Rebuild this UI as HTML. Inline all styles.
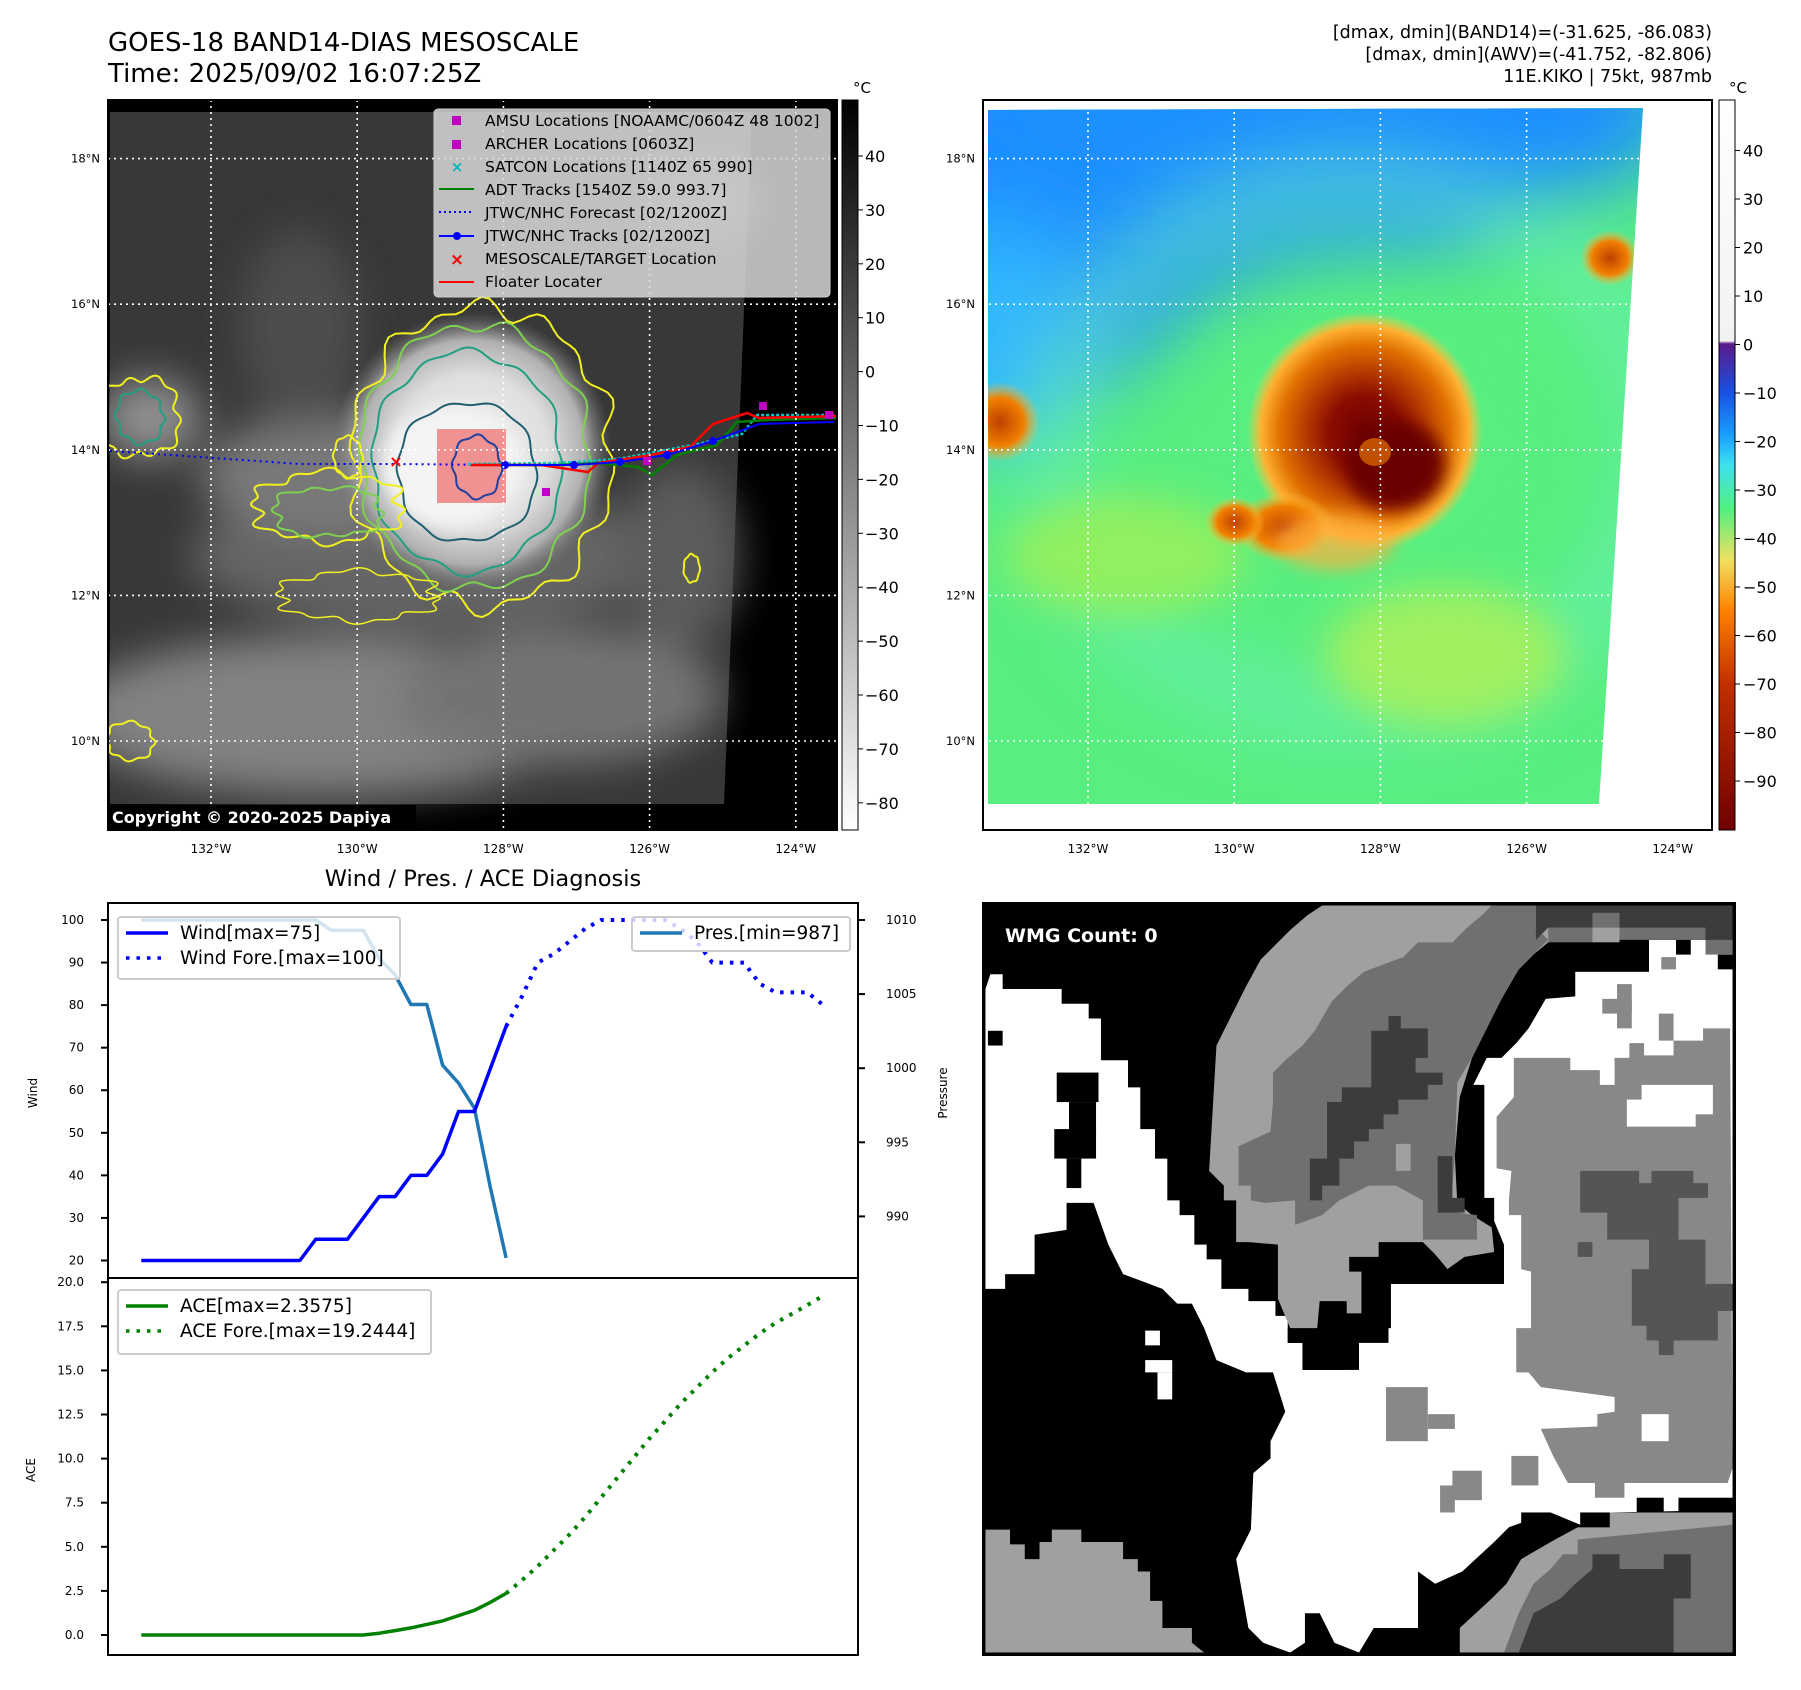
<!DOCTYPE html>
<html><head><meta charset="utf-8"><style>
html,body{margin:0;padding:0;background:#fff}
svg{display:block}
text{font-family:"DejaVu Sans","Liberation Sans",sans-serif}
</style></head><body>
<svg id="fig" width="1801" height="1690" viewBox="0 0 1801 1690" xmlns="http://www.w3.org/2000/svg">
<defs>
<clipPath id="c1"><rect x="108" y="100" width="729" height="730"/></clipPath>
<clipPath id="c2"><rect x="983" y="100" width="729" height="730"/></clipPath>
<filter id="b8" x="-50%" y="-50%" width="200%" height="200%"><feGaussianBlur stdDeviation="8"/></filter>
<filter id="b20" x="-50%" y="-50%" width="200%" height="200%"><feGaussianBlur stdDeviation="20"/></filter>
<filter id="b40" x="-50%" y="-50%" width="200%" height="200%"><feGaussianBlur stdDeviation="40"/></filter>
<radialGradient id="stormG" cx="0.5" cy="0.5" r="0.5">
<stop offset="0" stop-color="#f4f4f4"/><stop offset="0.55" stop-color="#dedede"/><stop offset="0.8" stop-color="#b0b0b0"/><stop offset="1" stop-color="#777" stop-opacity="0"/></radialGradient>
<radialGradient id="stormC" cx="0.5" cy="0.5" r="0.5">
<stop offset="0" stop-color="#700000"/><stop offset="0.3" stop-color="#8a0c00"/><stop offset="0.5" stop-color="#b43a00"/><stop offset="0.72" stop-color="#e07000"/><stop offset="0.88" stop-color="#ffb030"/><stop offset="1" stop-color="#ffd040" stop-opacity="0"/></radialGradient>
<radialGradient id="blobO" cx="0.5" cy="0.5" r="0.5">
<stop offset="0" stop-color="#c04000"/><stop offset="0.6" stop-color="#f08000"/><stop offset="1" stop-color="#ffc040" stop-opacity="0"/></radialGradient>
<linearGradient id="cb1" x1="0" y1="0" x2="0" y2="1"><stop offset="0" stop-color="#000"/><stop offset="1" stop-color="#fff"/></linearGradient>
<linearGradient id="cb2" x1="0" y1="0" x2="0" y2="1">
<stop offset="0" stop-color="#ffffff"/><stop offset="0.33" stop-color="#f2f2f2"/><stop offset="0.334" stop-color="#5a1a8a"/>
<stop offset="0.40" stop-color="#1a50e0"/><stop offset="0.46" stop-color="#1aa0ff"/><stop offset="0.50" stop-color="#40e0f0"/>
<stop offset="0.56" stop-color="#50f080"/><stop offset="0.63" stop-color="#f0e060"/><stop offset="0.70" stop-color="#ff8000"/>
<stop offset="0.80" stop-color="#c03000"/><stop offset="1" stop-color="#700000"/></linearGradient>
</defs>

<text x="108" y="51" font-size="26">GOES-18 BAND14-DIAS MESOSCALE</text>
<text x="108" y="82" font-size="26">Time: 2025/09/02 16:07:25Z</text>
<g font-size="17.5" text-anchor="end">
<text x="1712" y="38">[dmax, dmin](BAND14)=(-31.625, -86.083)</text>
<text x="1712" y="60">[dmax, dmin](AWV)=(-41.752, -82.806)</text>
<text x="1712" y="82">11E.KIKO | 75kt, 987mb</text>
</g>

<!-- MAP 1 -->
<g clip-path="url(#c1)">
<rect x="108" y="100" width="729" height="730" fill="#000"/>
<polygon points="110,112 752,112 724,804 110,804" fill="#383838"/>
<g filter="url(#b20)" opacity="0.9">
<ellipse cx="330" cy="715" rx="260" ry="80" fill="#8a8a8a"/>
<ellipse cx="560" cy="695" rx="160" ry="70" fill="#7a7a7a"/>
<ellipse cx="430" cy="556" rx="240" ry="70" fill="#6a6a6a"/>
<ellipse cx="330" cy="476" rx="130" ry="60" fill="#808080"/>
<ellipse cx="150" cy="418" rx="50" ry="40" fill="#9a9a9a"/>
<ellipse cx="680" cy="556" rx="60" ry="90" fill="#606060"/>
<ellipse cx="300" cy="328" rx="60" ry="100" fill="#505050"/>
<ellipse cx="700" cy="200" rx="60" ry="40" fill="#6a6a6a"/>
</g>
<ellipse cx="472" cy="452" rx="140" ry="140" fill="url(#stormG)"/>
<ellipse cx="452" cy="467" rx="70" ry="60" fill="#f4f4f4" filter="url(#b8)"/>
<rect x="437" y="429" width="69" height="74" fill="#f08080" opacity="0.85"/>
<g id="contours" fill="none" stroke-width="2"></g>
<polyline points="110,451 200,457 300,464 396,464 505,465" fill="none" stroke="#0000ff" stroke-width="2" stroke-dasharray="2,4"/>
<polyline points="468,464 558,463 618,459 698,444 742,434 757,415 836,415" fill="none" stroke="#00c8c8" stroke-width="2.5" stroke-dasharray="3,2"/>
<polyline points="478,465 558,465 598,463 638,467 652,475 677,455 717,445 737,422 767,420 836,418" fill="none" stroke="#008000" stroke-width="2.5"/>
<polyline points="471,465 541,465 588,472 598,463 645,456 690,447 713,424 747,413 759,418 840,416" fill="none" stroke="#ff0000" stroke-width="2.5"/>
<polyline points="505,465 574,465 620,462 667,455 713,441 759,424 834,422" fill="none" stroke="#0000ff" stroke-width="2"/>
<g fill="#0000ff"><circle cx="505" cy="465" r="4"/><circle cx="574" cy="465" r="4"/><circle cx="620" cy="462" r="4"/><circle cx="667" cy="455" r="4"/><circle cx="713" cy="441" r="4"/></g>
<g fill="#c000c0"><rect x="542" y="488" width="8" height="8"/><rect x="759" y="402" width="8" height="8"/><rect x="825" y="411" width="8" height="8"/><rect x="643" y="457" width="8" height="8"/></g>
<text x="396" y="467" fill="#ff0000" font-size="16" text-anchor="middle" font-weight="bold">×</text>
<g id="grid1" stroke="#fff" stroke-width="1.6" stroke-dasharray="2,4"></g>
</g>
<rect x="108" y="100" width="729" height="730" fill="none" stroke="#000" stroke-width="2"/>
<g>
<rect x="434" y="109" width="396" height="188" rx="4" fill="#d8d8d8" fill-opacity="0.85" stroke="#ccc"/>
<g font-size="15.5">
<rect x="452" y="116" width="9" height="9" fill="#c000c0"/><text x="485" y="126">AMSU Locations [NOAAMC/0604Z 48 1002]</text>
<rect x="452" y="140" width="9" height="9" fill="#c000c0"/><text x="485" y="149">ARCHER Locations [0603Z]</text>
<text x="457" y="172" fill="#00b8b8" font-size="15" text-anchor="middle" font-weight="bold">×</text><text x="485" y="172">SATCON Locations [1140Z 65 990]</text>
<line x1="439" y1="189" x2="474" y2="189" stroke="#008000" stroke-width="2"/><text x="485" y="195">ADT Tracks [1540Z 59.0 993.7]</text>
<line x1="439" y1="212" x2="474" y2="212" stroke="#0000ff" stroke-width="2" stroke-dasharray="2,3"/><text x="485" y="218">JTWC/NHC Forecast [02/1200Z]</text>
<line x1="439" y1="236" x2="474" y2="236" stroke="#0000ff" stroke-width="2"/><circle cx="457" cy="236" r="4" fill="#0000ff"/><text x="485" y="241">JTWC/NHC Tracks [02/1200Z]</text>
<text x="457" y="265" fill="#ff0000" font-size="17" text-anchor="middle" font-weight="bold">×</text><text x="485" y="264">MESOSCALE/TARGET Location</text>
<line x1="439" y1="282" x2="474" y2="282" stroke="#ff0000" stroke-width="2"/><text x="485" y="287">Floater Locater</text>
</g></g>
<g>
<rect x="108" y="805" width="308" height="25" fill="#000"/>
<text x="112" y="823" fill="#fff" font-size="16" font-weight="bold">Copyright © 2020-2025 Dapiya</text>
</g>
<rect x="842" y="100" width="16" height="730" fill="url(#cb1)" stroke="#000" stroke-width="1"/>
<text x="853" y="93" font-size="15">°C</text>
<g id="cb1ticks" font-size="16"></g>

<!-- MAP 2 -->
<g clip-path="url(#c2)">
<rect x="983" y="100" width="729" height="730" fill="#fff"/>
<clipPath id="sw2"><polygon points="988,110 1643,108 1599,804 988,804"/></clipPath>
<g clip-path="url(#sw2)">
<rect x="983" y="100" width="729" height="730" fill="#58ee80"/>
<ellipse cx="1080" cy="140" rx="420" ry="240" fill="#1a8cff" filter="url(#b40)"/>
<ellipse cx="1330" cy="110" rx="360" ry="120" fill="#1a90ff" filter="url(#b40)"/>
<ellipse cx="1000" cy="330" rx="80" ry="120" fill="#30b8ff" filter="url(#b40)"/>
<ellipse cx="1355" cy="447" rx="300" ry="260" fill="none" stroke="#70f0c0" stroke-width="40" filter="url(#b40)"/>
<ellipse cx="1355" cy="447" rx="230" ry="200" fill="#58ee80" filter="url(#b40)"/>
<ellipse cx="1125" cy="556" rx="120" ry="60" fill="#90f060" filter="url(#b20)"/>
<ellipse cx="1445" cy="656" rx="120" ry="70" fill="#a0f060" filter="url(#b20)"/>
<ellipse cx="1365" cy="432" rx="118" ry="120" fill="url(#stormC)"/>
<ellipse cx="1285" cy="527" rx="50" ry="35" fill="url(#blobO)"/>
<ellipse cx="1235" cy="522" rx="30" ry="25" fill="url(#blobO)"/>
<ellipse cx="1335" cy="542" rx="60" ry="28" fill="#ffb040" opacity="0.7" filter="url(#b8)"/>
<ellipse cx="1000" cy="422" rx="40" ry="40" fill="url(#blobO)"/>
<ellipse cx="1610" cy="258" rx="30" ry="28" fill="url(#blobO)"/>
<ellipse cx="1395" cy="465" rx="50" ry="45" fill="#6a0000" filter="url(#b8)"/>
<ellipse cx="1375" cy="452" rx="16" ry="14" fill="#c05000"/>
</g>
<g id="grid2" stroke="#fff" stroke-width="1.6" stroke-dasharray="2,4"></g>
</g>
<rect x="983" y="100" width="729" height="730" fill="none" stroke="#000" stroke-width="2"/>
<rect x="1719" y="100" width="16" height="730" fill="url(#cb2)" stroke="#000" stroke-width="1"/>
<text x="1729" y="93" font-size="15">°C</text>
<g id="cb2ticks" font-size="16"></g>
<g id="axlabels" font-size="12"></g>

<text x="483" y="886" font-size="22.5" text-anchor="middle">Wind / Pres. / ACE Diagnosis</text>
<g id="chart"></g>

<!-- WMG panel -->
<g>
<svg x="983" y="903" width="752" height="752" viewBox="5 5 1530 1530">
<rect x="5" y="5" width="1530" height="1530" fill="#000"/>
<polygon fill="#fff" points="10,180 20,150 45,150 45,180 165,180 165,210 220,210 220,240 245,240 245,325 300,325 300,380 325,380 325,465 355,465 355,525 380,525 380,610 405,610 405,640 435,640 435,700 460,700 460,730 490,730 490,790 545,790 545,815 600,815 600,845 625,845 625,900 655,900 655,955 740,955 770,900 830,870 830,780 1065,780 1065,700 1040,640 1000,590 1000,380 1030,320 1060,310 1090,290 1090,230 1130,200 1150,150 1210,145 1270,110 1360,110 1360,80 1530,80 1530,1240 1280,1245 1220,1270 1160,1245 1075,1275 1045,1305 980,1365 925,1390 890,1365 890,1480 800,1480 770,1530 720,1510 690,1450 660,1450 660,1510 630,1530 575,1510 545,1480 520,1340 550,1280 555,1165 590,1135 590,1100 620,1040 595,960 540,960 480,935 455,870 430,820 400,820 370,790 290,760 260,700 230,615 175,615 175,670 110,680 110,760 50,760 50,790 10,790"/>
<g fill="#000">
<rect x="750" y="725" width="315" height="55"/><rect x="810" y="695" width="90" height="30"/><rect x="775" y="755" width="60" height="115"/>
<rect x="625" y="870" width="205" height="30"/><rect x="655" y="900" width="115" height="55"/><rect x="690" y="815" width="85" height="55"/>
<rect x="155" y="350" width="85" height="60"/><rect x="180" y="410" width="55" height="60"/><rect x="150" y="465" width="85" height="60"/><rect x="175" y="525" width="30" height="60"/><rect x="15" y="265" width="30" height="30"/>
<rect x="995" y="375" width="30" height="235"/><rect x="1015" y="605" width="30" height="60"/>
<polygon points="1125,145 1210,145 1210,195 1150,200 1115,260 1090,290 1060,320 1030,320 1060,290 1085,260 1090,200 1120,170"/>
<rect x="1160" y="80" width="200" height="65"/><rect x="1415" y="80" width="30" height="30"/><rect x="1500" y="110" width="30" height="30"/>
</g>
<g fill="#fff"><rect x="335" y="875" width="30" height="30"/><rect x="335" y="935" width="55" height="25"/><rect x="360" y="960" width="30" height="55"/></g>
<polygon fill="#888" points="1050,440 1085,400 1085,320 1200,320 1200,345 1260,345 1260,375 1290,375 1290,320 1320,320 1320,290 1350,290 1350,315 1410,315 1410,285 1470,285 1470,260 1525,260 1530,1155 1520,1185 1310,1185 1310,1215 1250,1215 1250,1185 1195,1185 1165,1130 1140,1075 1255,1070 1255,1045 1290,1040 1290,1010 1140,990 1115,960 1090,960 1090,870 1120,870 1120,755 1100,750 1100,640 1075,640 1075,610 1080,550 1050,545"/>
<g fill="#fff"><rect x="1345" y="375" width="145" height="60"/><rect x="1315" y="405" width="140" height="55"/><rect x="1345" y="1045" width="55" height="55"/></g>
<g fill="#888"><rect x="825" y="990" width="85" height="110"/><rect x="910" y="1045" width="55" height="30"/><rect x="1080" y="1130" width="55" height="60"/><rect x="960" y="1160" width="60" height="60"/><rect x="935" y="1190" width="30" height="55"/><rect x="1295" y="170" width="30" height="90"/><rect x="1265" y="200" width="60" height="30"/><rect x="1380" y="230" width="30" height="55"/><rect x="1385" y="115" width="30" height="25"/></g>
<polygon fill="#555" points="1220,550 1340,550 1340,575 1365,575 1365,550 1450,550 1450,575 1480,575 1480,605 1420,605 1420,690 1475,690 1475,780 1530,780 1530,835 1500,835 1500,895 1410,895 1410,925 1380,925 1380,895 1355,895 1355,865 1325,865 1325,750 1360,750 1360,690 1275,690 1275,635 1220,635"/>
<rect x="1215" y="695" width="30" height="30" fill="#555"/>
<polygon fill="#a0a0a0" points="695,10 1130,10 1130,55 1245,55 1245,80 1185,80 1155,85 1125,110 1095,140 1060,200 1030,260 1000,320 975,400 965,520 970,615 1000,640 1040,665 1045,715 985,725 950,750 925,720 900,695 810,695 810,725 750,725 750,755 775,755 775,840 745,840 745,815 690,815 685,870 630,870 605,810 605,700 545,695 520,695 520,610 495,610 495,580 465,550 475,380 480,295 510,235 540,175 570,120 600,90 630,60 665,30"/>
<polygon fill="#707070" points="1040,10 1130,10 1130,55 1155,80 1125,110 1095,140 1060,200 1030,260 1000,320 970,370 965,520 960,580 930,600 930,630 1010,640 1010,690 900,690 900,610 845,580 790,580 730,610 695,640 640,660 640,610 580,615 550,610 550,580 525,580 525,500 590,470 595,410 595,350 620,325 655,295 680,265 715,205 745,175 780,145 860,115 890,85 960,85 990,55 1020,30"/>
<polygon fill="#3c3c3c" points="830,235 855,235 855,260 910,260 910,320 885,320 885,350 940,350 940,375 910,375 910,405 850,405 850,435 820,435 820,465 790,465 790,490 760,490 760,525 730,525 730,580 695,580 695,610 670,610 670,525 705,525 705,410 735,410 735,380 795,380 795,265 830,265"/>
<polygon fill="#3c3c3c" points="930,520 960,520 960,605 985,605 985,635 930,635"/>
<rect x="845" y="495" width="30" height="55" fill="#a0a0a0"/>
<polygon fill="#3c3c3c" points="1130,10 1530,10 1530,80 1475,80 1475,55 1300,55 1300,80 1245,80 1245,55 1155,55 1130,80"/>
<g fill="#707070"><rect x="1155" y="55" width="90" height="30"/><rect x="1300" y="55" width="175" height="25"/><rect x="1245" y="25" width="55" height="30"/><rect x="1475" y="80" width="55" height="30"/></g>
<rect x="1245" y="55" width="55" height="30" fill="#a0a0a0"/>
<polygon fill="#a0a0a0" points="10,1280 60,1280 60,1310 90,1310 90,1340 120,1340 120,1305 145,1305 145,1280 205,1280 205,1305 290,1305 290,1340 320,1340 320,1365 345,1365 345,1425 370,1425 370,1480 430,1480 430,1510 455,1530 10,1530"/>
<polygon fill="#a0a0a0" points="1280,1245 1530,1245 1530,1530 975,1530 975,1480 1040,1420 1070,1390 1100,1340 1160,1305 1215,1275 1280,1275"/>
<polygon fill="#707070" points="1215,1300 1530,1270 1530,1530 1065,1530 1095,1450 1125,1390 1160,1360 1185,1330 1215,1330"/>
<polygon fill="#3c3c3c" points="1245,1330 1300,1330 1300,1360 1390,1360 1390,1330 1445,1330 1445,1420 1410,1420 1410,1530 1095,1530 1125,1450 1180,1420 1210,1390 1245,1360"/>
<g fill="#000"><rect x="1335" y="1215" width="55" height="30"/><rect x="1420" y="1215" width="110" height="30"/><rect x="1220" y="1245" width="60" height="30"/><rect x="1100" y="1245" width="60" height="30"/></g>
</svg>
<rect x="983" y="903" width="752" height="752" fill="none" stroke="#000" stroke-width="2"/>
<text x="1005" y="942" fill="#fff" font-size="19" font-weight="bold">WMG Count: 0</text>
</g>
</svg>

<script>
const windObs = [20,20,20,20,20,20,20,20,20,20,20,25,25,25,30,35,35,40,40,45,55,55,65,75];
const windFore = [75,82,90,92,95,98,100,100,100,100,100,98,95,90,90,90,85,83,83,83,80];
const presObs = [1010,1010,1010,1010,1010,1010,1010,1010,1010,1010,1010,1010,1009.3,1009.3,1009.3,1007.4,1006.3,1004.3,1004.3,1000.2,999,997.3,992,987.2];
const aceObs = [0,0,0,0,0,0,0,0,0,0,0,0,0,0,0,0.1,0.25,0.4,0.6,0.8,1.1,1.4,1.85,2.36];
const aceFore = [2.36,3.1,3.9,4.8,5.7,6.7,7.8,8.9,10.0,11.1,12.1,13.1,14.0,14.9,15.7,16.4,17.1,17.7,18.2,18.7,19.24];
const windTicks = [20,30,40,50,60,70,80,90,100];
const presTicks = [990,995,1000,1005,1010];
const aceTicks = [0,2.5,5,7.5,10,12.5,15,17.5,20];
const cb1Ticks = [40,30,20,10,0,-10,-20,-30,-40,-50,-60,-70,-80];
const cb2Ticks = [40,30,20,10,0,-10,-20,-30,-40,-50,-60,-70,-80,-90];
const latTicks = [18,16,14,12,10];
const lonTicks = [132,130,128,126,124];

const NS="http://www.w3.org/2000/svg";
function mk(tag,attrs,parent){const e=document.createElementNS(NS,tag);for(const k in attrs)e.setAttribute(k,attrs[k]);parent.appendChild(e);return e;}

const xIdx = i => 141.3 + i*15.86;
const yWind = w => 920 + (100-w)*4.256;
const yPres = p => 920 - (p-1010)*14.82;
const yAce = a => 1635 - a*17.64;

const ch=document.getElementById('chart');
let f1=mk('rect',{x:108,y:903,width:750,height:375,fill:'none',stroke:'#000','stroke-width':2},ch);


let f2=mk('rect',{x:108,y:1278,width:750,height:377,fill:'none',stroke:'#000','stroke-width':2},ch);



windTicks.forEach(v=>{const y=yWind(v);
  mk('line',{x1:101,y1:y,x2:108,y2:y,stroke:'#000','stroke-width':2},ch);
  const t=mk('text',{x:84,y:y+4,'font-size':12,'text-anchor':'end'},ch);t.textContent=v;
  
  });
presTicks.forEach(v=>{const y=yPres(v);
  mk('line',{x1:858,y1:y,x2:865,y2:y,stroke:'#000','stroke-width':2},ch);
  const t=mk('text',{x:886,y:y+4,'font-size':12},ch);t.textContent=v;
  
  });
aceTicks.forEach(v=>{const y=yAce(v);
  mk('line',{x1:101,y1:y,x2:108,y2:y,stroke:'#000','stroke-width':2},ch);
  const t=mk('text',{x:84,y:y+4,'font-size':12,'text-anchor':'end'},ch);t.textContent=v.toFixed(1);
  
  });
[['Wind',37,1093],['Pressure',947,1093],['ACE',35,1470]].forEach(a=>{
  const t=mk('text',{x:a[1],y:a[2],'font-size':12,'text-anchor':'middle',transform:`rotate(-90 ${a[1]} ${a[2]})`},ch);t.textContent=a[0];
  
  });

function line(arr,off,yf,color,dash,name){
  const pts=arr.map((v,i)=>xIdx(i+off).toFixed(1)+','+yf(v).toFixed(1)).join(' ');
  const p=mk('polyline',{points:pts,fill:'none',stroke:color,'stroke-width':dash?4:3.5,'stroke-linejoin':'round'},ch);
  if(dash){p.setAttribute('stroke-dasharray','3.5,7');}
  
  
}
line(presObs,0,yPres,'#1f77b4',false,'pressure-line');
line(windObs,0,yWind,'#0000ff',false,'wind-line');
line(windFore,23,yWind,'#0000ff',true,'wind-forecast-line');
line(aceObs,0,yAce,'#008000',false,'ace-line');
line(aceFore,23,yAce,'#008000',true,'ace-forecast-line');

function legend(x,y,w,h,items,name){
  const g=mk('g',{},ch);
  
  
  mk('rect',{x:x,y:y,width:w,height:h,rx:3,fill:'#fff','fill-opacity':0.8,stroke:'#ccc','stroke-width':2},g);
  items.forEach((it,k)=>{const yy=y+16+k*25;
    const l=mk('line',{x1:x+8,y1:yy,x2:x+50,y2:yy,stroke:it[1],'stroke-width':3.5},g);
    if(it[2])l.setAttribute('stroke-dasharray','3.5,7');
    const t=mk('text',{x:x+62,y:yy+6,'font-size':18.5},g);t.textContent=it[0];});
}
legend(118,917,282,62,[['Wind[max=75]','#0000ff',false],['Wind Fore.[max=100]','#0000ff',true]],'wind-legend');
legend(632,917,218,34,[['Pres.[min=987]','#1f77b4',false]],'pressure-legend');
legend(118,1290,313,64,[['ACE[max=2.3575]','#008000',false],['ACE Fore.[max=19.2444]','#008000',true]],'ace-legend');

const latY = lat => 158.6 + (18-lat)*72.8;
const lonX1 = lon => 211 + (132-lon)*73.1;
const lonX2 = lon => 1088 + (132-lon)*73.1;
const g1=document.getElementById('grid1'), g2=document.getElementById('grid2'), al=document.getElementById('axlabels');
latTicks.forEach(l=>{const y=latY(l);
  mk('line',{x1:108,y1:y,x2:837,y2:y},g1);mk('line',{x1:983,y1:y,x2:1712,y2:y},g2);
  [[100],[975]].forEach(a=>{const t=mk('text',{x:a[0],y:y+4,'text-anchor':'end','font-size':11.5},al);t.textContent=l+'°N';
  
  });});
lonTicks.forEach(l=>{
  [[lonX1(l),g1],[lonX2(l),g2]].forEach(a=>{mk('line',{x1:a[0],y1:100,x2:a[0],y2:830},a[1]);
    const t=mk('text',{x:a[0],y:853,'text-anchor':'middle','font-size':12},al);t.textContent=l+'°W';
    
    });});

const cb1=document.getElementById('cb1ticks'), cb2=document.getElementById('cb2ticks');
cb1Ticks.forEach(v=>{const y=156+(40-v)*5.39;mk('line',{x1:858,y1:y,x2:863,y2:y,stroke:'#000'},cb1);
  const t=mk('text',{x:865,y:y+6},cb1);t.textContent=v<0?'−'+(-v):v;
  
  });
cb2Ticks.forEach(v=>{const y=150.5+(40-v)*4.85;mk('line',{x1:1735,y1:y,x2:1740,y2:y,stroke:'#000'},cb2);
  const t=mk('text',{x:1743,y:y+6},cb2);t.textContent=v<0?'−'+(-v):v;
  
  });

const ct=document.getElementById('contours');
function wavy(cx,cy,rx,ry,amp,fr,col,w){let d='';for(let k=0;k<=120;k++){const a=k/120*Math.PI*2;const r=1+amp*Math.sin(a*fr)*Math.cos(a*3+1);
  const x=cx+rx*r*Math.cos(a),y=cy+ry*r*Math.sin(a);d+=(k?'L':'M')+x.toFixed(1)+','+y.toFixed(1);}
  mk('path',{d:d+'Z',stroke:col,'stroke-width':w},ct);}
wavy(482,457,130,150,0.08,13,'#f0f020',2);
wavy(475,457,115,132,0.06,11,'#80d050',2);
wavy(467,462,95,110,0.05,9,'#20a080',2);
wavy(467,472,70,70,0.05,7,'#206070',2);
wavy(477,467,25,30,0.1,5,'#2040a0',2);
wavy(328,507,75,35,0.15,9,'#f0f020',2);
wavy(328,512,55,25,0.15,7,'#80d050',2);
wavy(140,417,40,40,0.15,7,'#f0f020',2);
wavy(140,417,25,25,0.15,5,'#20a080',2);
wavy(348,457,15,20,0.1,5,'#f0f020',2);
wavy(130,741,25,18,0.15,5,'#f0f020',2);
wavy(692,568,8,14,0.1,4,'#f0f020',2);
wavy(358,596,80,25,0.15,9,'#f0f020',1.5);
</script>
</body></html>
